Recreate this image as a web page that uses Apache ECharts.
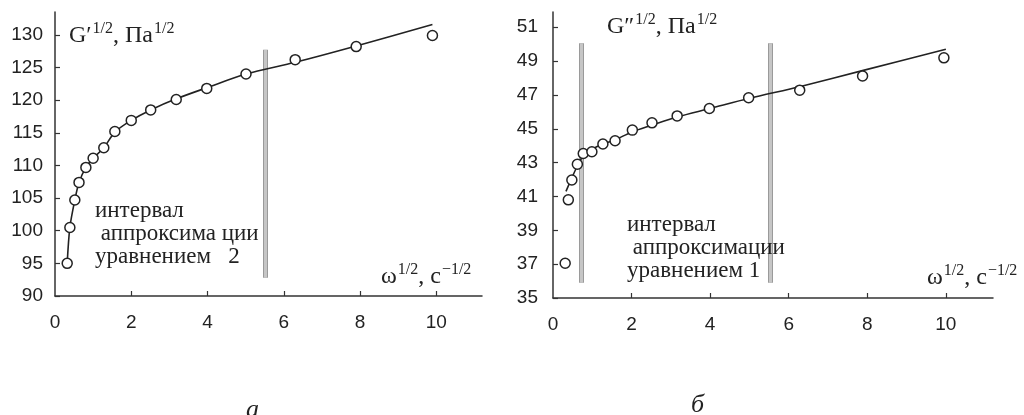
<!DOCTYPE html>
<html>
<head>
<meta charset="utf-8">
<script src="https://cdn.jsdelivr.net/npm/echarts@6/dist/echarts.min.js"></script>
<style>
html, body { margin: 0; padding: 0; background: #fff; }
#chart { width: 1024px; height: 415px; }
</style>
</head>
<body>
<div id="chart"></div>
<script>
// (а) G'^1/2 vs ω^1/2 — measured points
const omegaA = [0.32, 0.39, 0.52, 0.63, 0.81, 1.0, 1.28, 1.57, 2.0, 2.51, 3.18, 3.98, 5.01, 6.30, 7.90, 9.90];
const gPrime = [95.0, 100.5, 104.7, 107.4, 109.7, 111.1, 112.7, 115.2, 116.9, 118.5, 120.1, 121.8, 124.0, 126.2, 128.2, 129.9];
// (а) approximation curve
const fitAX = [0.32, 0.39, 0.52, 0.63, 0.81, 1.0, 1.28, 1.57, 2.0, 2.51, 3.18, 3.98, 5.01, 6.30, 7.90, 9.90];
const fitAY = [95.0, 100.5, 104.7, 107.4, 109.7, 111.1, 112.7, 115.1, 116.9, 118.5, 120.2, 121.9, 124.0, 125.8, 128.3, 131.6];
// (а) interval border
const bandAX = [5.51];
const bandAY = [92.8, 127.7];

// (б) G''^1/2 vs ω^1/2 — measured points
const omegaB = [0.31, 0.39, 0.48, 0.62, 0.77, 0.99, 1.27, 1.58, 2.02, 2.52, 3.16, 3.98, 4.98, 6.28, 7.88, 9.95];
const gDouble = [37.05, 40.8, 41.97, 42.9, 43.54, 43.64, 44.1, 44.29, 44.92, 45.35, 45.76, 46.2, 46.83, 47.28, 48.12, 49.19];
// (б) approximation curve
const fitBX = [0.33, 0.48, 0.62, 0.77, 1.0, 1.27, 1.58, 2.0, 2.5, 3.16, 4.0, 5.0, 6.3, 7.9, 10.0];
const fitBY = [41.3, 42.1, 42.8, 43.4, 43.8, 44.1, 44.35, 44.8, 45.2, 45.7, 46.2, 46.8, 47.5, 48.45, 49.7];
// (б) interval borders
const bandBX = [0.71, 5.54];
const bandBY = [35.9, 50.05];

const xTicks = [0, 2, 4, 6, 8, 10];
const yTicksA = [90, 95, 100, 105, 110, 115, 120, 125, 130];
const yTicksB = [35, 37, 39, 41, 43, 45, 47, 49, 51];

const serif = '"Liberation Serif", "DejaVu Serif", serif';
const sans = '"Liberation Sans", Arial, sans-serif';
const ink = '#222';

const pair = (xs, ys) => xs.map((x, i) => [x, ys[i]]);

const axisBase = {
    axisLine: {show: true, onZero: false, lineStyle: {color: '#333', width: 1.5}},
    axisTick: {show: true, inside: true, length: 5, lineStyle: {color: '#333', width: 1.2}},
    splitLine: {show: false},
    axisLabel: {color: ink, fontFamily: sans, fontSize: 19}
};

const mkX = (gridIndex) => ({
    ...axisBase,
    type: 'value', gridIndex, min: 0, max: 11.2, interval: 2,
    axisTick: {...axisBase.axisTick, customValues: xTicks.slice(1)},
    axisLabel: {...axisBase.axisLabel, margin: 17, customValues: xTicks}
});

const mkY = (gridIndex, min, max, interval, ticks, margin) => ({
    ...axisBase,
    type: 'value', gridIndex, min, max, interval,
    axisTick: {...axisBase.axisTick, customValues: ticks},
    axisLabel: {...axisBase.axisLabel, margin, customValues: ticks}
});

const bandLines = (xs, ys) => {
    const out = [];
    xs.forEach(x => {
        out.push([{coord: [x, ys[0]], lineStyle: {color: '#9a9a9a', width: 5}},
                  {coord: [x, ys[1]]}]);
        out.push([{coord: [x, ys[0]], lineStyle: {color: '#c6c6c6', width: 3}},
                  {coord: [x, ys[1]]}]);
    });
    return out;
};

const fitSeries = (idx, xs, ys, bx, by) => ({
    type: 'line', xAxisIndex: idx, yAxisIndex: idx,
    data: pair(xs, ys), smooth: 0.3, showSymbol: false,
    lineStyle: {color: ink, width: 1.6}, z: 2, silent: true,
    markLine: {
        silent: true, symbol: ['none', 'none'], label: {show: false},
        lineStyle: {type: 'solid'}, z: 1,
        data: bandLines(bx, by)
    }
});

const pointSeries = (idx, xs, ys) => ({
    type: 'scatter', xAxisIndex: idx, yAxisIndex: idx,
    data: pair(xs, ys), symbol: 'circle', symbolSize: 10,
    itemStyle: {color: '#fff', borderColor: ink, borderWidth: 1.5, opacity: 1}, z: 5
});

const supRich = {
    b: {fontFamily: serif, fontSize: 24, fontWeight: 'normal', color: ink, verticalAlign: 'bottom'},
    s: {fontFamily: serif, fontSize: 16, fontWeight: 'normal', color: ink, verticalAlign: 'bottom', padding: [0, 0, 11, 1]}
};

const note = (text, left, top) => ({
    text, left, top,
    textStyle: {fontFamily: serif, fontSize: 23, fontWeight: 'normal', color: ink, lineHeight: 23}
});
const label = (text, left, top) => ({
    text, left, top,
    textStyle: {fontWeight: 'normal', rich: supRich}
});
const caption = (text, left, top) => ({
    text, left, top,
    textStyle: {fontFamily: serif, fontSize: 26, fontStyle: 'italic', fontWeight: 'normal', color: ink}
});

const chart = echarts.init(document.getElementById('chart'));
chart.setOption({
    animation: false,
    backgroundColor: '#fff',
    grid: [
        {left: 55, top: 12, width: 427, height: 284, outerBoundsMode: 'none'},
        {left: 553, top: 12, width: 440, height: 286, outerBoundsMode: 'none'}
    ],
    xAxis: [mkX(0), mkX(1)],
    yAxis: [
        mkY(0, 90, 133.5, 5, yTicksA, 12),
        mkY(1, 35, 51.9, 2, yTicksB, 15)
    ],
    title: [
        label("{b|G′}{s|1/2}{b|, Па}{s|1/2}", 64, 16),
        label("{b|G″}{s|1/2}{b|, Па}{s|1/2}", 602, 7),
        label("{b|ω}{s|1/2}{b|, с}{s|−1/2}", 376, 257),
        label("{b|ω}{s|1/2}{b|, с}{s|−1/2}", 922, 258),
        note("интервал\n аппроксима ции\nуравнением   2", 90, 194),
        note("интервал\n аппроксимации\nуравнением 1", 622, 208),
        caption('а', 241, 392),
        caption('б', 686, 387)
    ],
    series: [
        fitSeries(0, fitAX, fitAY, bandAX, bandAY),
        pointSeries(0, omegaA, gPrime),
        fitSeries(1, fitBX, fitBY, bandBX, bandBY),
        pointSeries(1, omegaB, gDouble)
    ]
});
</script>
</body>
</html>
